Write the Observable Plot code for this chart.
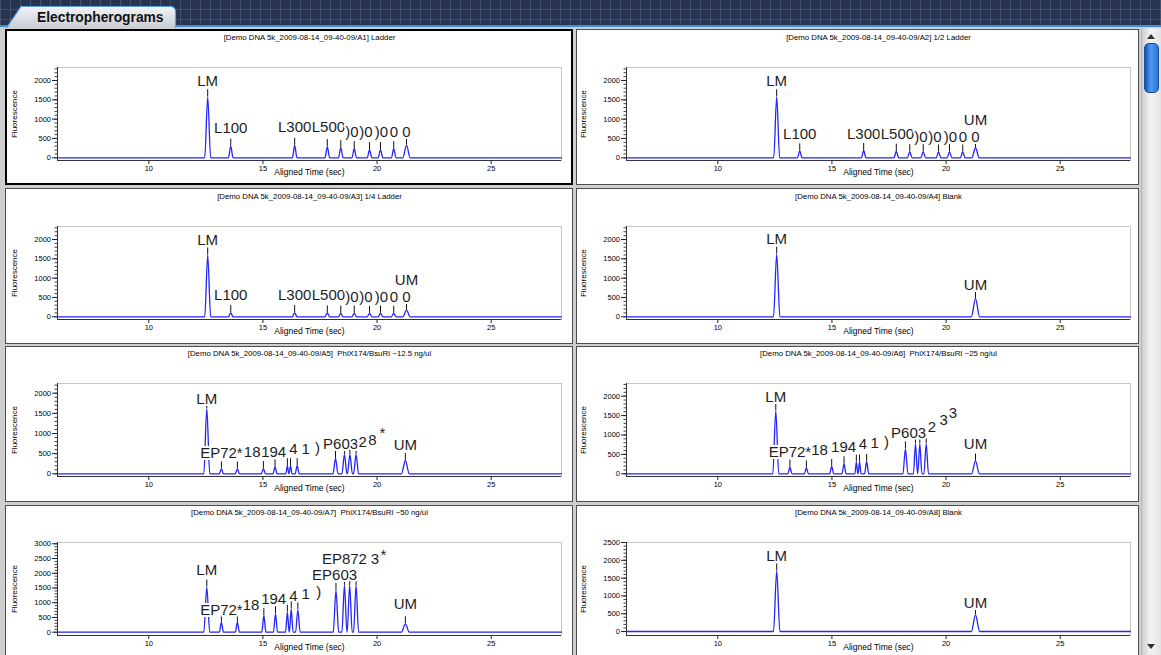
<!DOCTYPE html>
<html>
<head>
<meta charset="utf-8">
<script src="https://cdn.jsdelivr.net/npm/d3@7"></script>
<script src="https://cdn.jsdelivr.net/npm/@observablehq/plot@0.6"></script>
<style>
html,body{margin:0;padding:0;}
body{width:1161px;height:655px;overflow:hidden;position:relative;background:#cfcfcf;font-family:"Liberation Sans",Arial,sans-serif;}
#header{position:absolute;left:0;top:0;width:1161px;height:25px;background-color:#28344f;
  background-image:linear-gradient(90deg,rgba(110,130,170,.35) 1px,transparent 1px),linear-gradient(0deg,rgba(110,130,170,.35) 1px,transparent 1px);
  background-size:10px 10px;}
#hline{position:absolute;left:0;top:25px;width:1161px;height:2px;background:#3b8ee0;}
#tab{position:absolute;left:0;top:0;}
.panel{position:absolute;box-sizing:border-box;background:#fff;border:1px solid #4d4d4d;}
.panel.sel{border:2px solid #000;}
.plot{position:absolute;width:568px;height:156px;}
.ylab{position:absolute;width:80px;height:10px;font-size:8px;line-height:10px;text-align:center;color:#000;transform:rotate(-90deg);}
#scroll{position:absolute;left:1141px;top:28px;width:20px;height:627px;background:linear-gradient(90deg,#cfcfcf,#f4f4f4 45%,#e2e2e2);border-left:1px solid #b8b8b8;box-sizing:border-box;}
#thumb{position:absolute;left:2px;top:15px;width:15px;height:50px;border-radius:5px;background:linear-gradient(90deg,#1452b8,#4d9cf0 45%,#2a74d8);border:1px solid #1a4aa0;box-sizing:border-box;}
.arrow{position:absolute;left:5px;width:0;height:0;border-left:4px solid transparent;border-right:4px solid transparent;}
</style>
</head>
<body>
<div id="header"></div>
<div id="hline"></div>
<svg id="tab" width="190" height="28">
  <defs><linearGradient id="tg" x1="0" y1="0" x2="0" y2="1"><stop offset="0" stop-color="#f2f3f5"/><stop offset="1" stop-color="#c9ced5"/></linearGradient></defs>
  <path d="M6.5,28 L21,6.5 H170 Q175.5,6.5 175.5,12 V28" fill="url(#tg)" stroke="#5aa2ea" stroke-width="1.2"/>
  <text x="37" y="21.5" font-family="Liberation Sans, Arial, sans-serif" font-weight="bold" font-size="13.8" fill="#111">Electropherograms</text>
</svg>
<div id="scroll"><div class="arrow" style="top:6px;border-bottom:5px solid #333;"></div><div id="thumb"></div><div class="arrow" style="top:616px;border-top:5px solid #333;"></div></div>
<div id="root"></div>
<script>
// ---------- data ----------
const runName = "Demo DNA 5k_2009-08-14_09-40-09";
const sampleIds = ["A1", "A2", "A3", "A4", "A5", "A6", "A7", "A8"];
const sampleNames = ["Ladder", "1/2 Ladder", "1/4 Ladder", "Blank",
  "PhiX174/BsuRI ~12.5 ng/ul", "PhiX174/BsuRI ~25 ng/ul", "PhiX174/BsuRI ~50 ng/ul", "Blank"];

const xDomain = [6.0, 28.08];
const xTicks = [10, 15, 20, 25];
const yTicks2000 = [0, 500, 1000, 1500, 2000];
const yTicks2500 = [0, 500, 1000, 1500, 2000, 2500];
const yTicks3000 = [0, 500, 1000, 1500, 2000, 2500, 3000];

// ---- peaks (migration time in s, fluorescence height, half base width in s) ----
// ladder lanes A1, A2, A3
const ladderTimes = [12.58, 13.59, 16.39, 17.82, 18.41, 19.0, 19.67, 20.15, 20.73, 21.29];
const ladderWidths = [0.13, 0.1, 0.1, 0.1, 0.1, 0.1, 0.1, 0.1, 0.1, 0.16];
const a1Heights = [1580, 300, 320, 290, 260, 235, 210, 210, 235, 330];
const a2Heights = [1580, 180, 190, 170, 160, 160, 150, 160, 150, 260];
const a3Heights = [1600, 110, 110, 100, 95, 95, 90, 95, 90, 170];
// blank lanes A4, A8
const blankTimes = [12.58, 21.29];
const blankWidths = [0.14, 0.18];
const a4Heights = [1620, 470];
const a8Heights = [1700, 470];
// PhiX174/BsuRI lanes A5, A6, A7
const a5Times = [12.54, 13.18, 13.88, 15.02, 15.53, 16.07, 16.21, 16.5, 18.18, 18.57, 18.81, 19.08, 21.24];
const a5Heights = [1620, 120, 120, 130, 170, 200, 200, 200, 380, 480, 480, 480, 330];
const a5Widths = [0.13, 0.09, 0.09, 0.09, 0.09, 0.065, 0.065, 0.09, 0.11, 0.11, 0.11, 0.11, 0.17];
const a6Times = [12.54, 13.16, 13.88, 14.99, 15.53, 16.07, 16.21, 16.52, 18.22, 18.66, 18.85, 19.13, 21.29];
const a6Heights = [1630, 170, 150, 190, 258, 300, 300, 318, 644, 773, 773, 773, 330];
const a6Widths = [0.13, 0.09, 0.09, 0.09, 0.09, 0.065, 0.065, 0.09, 0.11, 0.09, 0.09, 0.1, 0.17];
const a7Times = [12.54, 13.18, 13.88, 15.04, 15.55, 16.07, 16.24, 16.53, 18.2, 18.57, 18.8, 19.08, 21.24];
const a7Heights = [1530, 340, 340, 567, 624, 680, 794, 760, 1415, 1585, 1585, 1585, 285];
const a7Widths = [0.13, 0.09, 0.09, 0.09, 0.09, 0.08, 0.08, 0.1, 0.12, 0.11, 0.11, 0.11, 0.17];

// ---- peak labels as they are visible (overlapping labels leave only fragments) ----
const a1LabelText = ["LM", "L100", "L300", "L500", ")0", ")0", ")0", "0", "0"];
const a1LabelTime = [12.58, 13.59, 16.39, 17.87, 18.9, 19.51, 20.19, 20.74, 21.29];
const a1LabelY = [1870, 636, 673, 673, 543, 543, 543, 543, 543];
const a2LabelText = ["LM", "L100", "L300", "L500", ")0", ")0", ")0", "0", "0", "UM"];
const a2LabelTime = [12.58, 13.59, 16.39, 17.87, 18.9, 19.51, 20.19, 20.74, 21.29, 21.29];
const a2LabelY = [1870, 492, 492, 492, 414, 414, 414, 414, 414, 850];
const a3LabelText = ["LM", "L100", "L300", "L500", ")0", ")0", ")0", "0", "0", "UM"];
const a3LabelTime = [12.58, 13.59, 16.39, 17.87, 18.9, 19.51, 20.19, 20.74, 21.29, 21.29];
const a3LabelY = [1870, 435, 435, 435, 395, 395, 395, 395, 395, 820];
const a4LabelText = ["LM", "UM"];
const a4LabelTime = [12.58, 21.29];
const a4LabelY = [1896, 704];
const a5LabelText = ["LM", "EP72*", "18", "194", "4", "1", ")", "P603", "2", "8", "*", "UM"];
const a5LabelTime = [12.54, 13.18, 14.53, 15.47, 16.34, 16.87, 17.39, 18.40, 19.37, 19.80, 20.24, 21.24];
const a5LabelY = [1737, 397, 412, 429, 479, 496, 511, 620, 660, 727, 891, 596];
const a6LabelText = ["LM", "EP72*", "18", "194", "4", "1", ")", "P603", "2", "3", "3", "UM"];
const a6LabelTime = [12.54, 13.16, 14.46, 15.51, 16.36, 16.87, 17.39, 18.36, 19.38, 19.89, 20.3, 21.29];
const a6LabelY = [1850, 428, 472, 557, 644, 660, 686, 918, 1072, 1270, 1425, 644];
const a7LabelText = ["LM", "EP72*", "18", "194", "4", "1", ")", "EP603", "EP872", "3", "*", "UM"];
const a7LabelTime = [12.54, 13.18, 14.48, 15.47, 16.34, 16.87, 17.44, 18.14, 18.57, 19.91, 20.28, 21.24];
const a7LabelY = [1948, 600, 760, 964, 1075, 1133, 1200, 1778, 2300, 2321, 2464, 794];
const a8LabelText = ["LM", "UM"];
const a8LabelTime = [12.58, 21.29];
const a8LabelY = [1994, 674];

// ---------- layout ----------
const panelLeft = [5, 576], panelWidth = [568, 563];
const panelTop = [29, 188, 346, 505], panelHeight = 156;
const svgLeft = [5, 574], svgTop = [29, 188, 345, 504];
const W = 568, H = 156, ML = 52, MR = 12, MT = 38, MB = 25;
const INNER_H = H - MT - MB;

const panels = [
  {i: 0, col: 0, row: 0, times: ladderTimes, heights: a1Heights, widths: ladderWidths, lt: a1LabelText, lx: a1LabelTime, ly: a1LabelY, yDomain: [-70, 2336], yTicks: yTicks2000, sel: true},
  {i: 1, col: 1, row: 0, times: ladderTimes, heights: a2Heights, widths: ladderWidths, lt: a2LabelText, lx: a2LabelTime, ly: a2LabelY, yDomain: [-70, 2336], yTicks: yTicks2000},
  {i: 2, col: 0, row: 1, times: ladderTimes, heights: a3Heights, widths: ladderWidths, lt: a3LabelText, lx: a3LabelTime, ly: a3LabelY, yDomain: [-70, 2336], yTicks: yTicks2000},
  {i: 3, col: 1, row: 1, times: blankTimes, heights: a4Heights, widths: blankWidths, lt: a4LabelText, lx: a4LabelTime, ly: a4LabelY, yDomain: [-70, 2336], yTicks: yTicks2000},
  {i: 4, col: 0, row: 2, times: a5Times, heights: a5Heights, widths: a5Widths, lt: a5LabelText, lx: a5LabelTime, ly: a5LabelY, yDomain: [-67, 2241], yTicks: yTicks2000},
  {i: 5, col: 1, row: 2, times: a6Times, heights: a6Heights, widths: a6Widths, lt: a6LabelText, lx: a6LabelTime, ly: a6LabelY, yDomain: [-70, 2327], yTicks: yTicks2000},
  {i: 6, col: 0, row: 3, times: a7Times, heights: a7Heights, widths: a7Widths, lt: a7LabelText, lx: a7LabelTime, ly: a7LabelY, yDomain: [-112, 3044], yTicks: yTicks3000},
  {i: 7, col: 1, row: 3, times: blankTimes, heights: a8Heights, widths: blankWidths, lt: a8LabelText, lx: a8LabelTime, ly: a8LabelY, yDomain: [-112, 2500], yTicks: yTicks2500}
];

const FONT = "Liberation Sans, Arial, sans-serif";

function chart(p) {
  const span = p.yDomain[1] - p.yDomain[0];
  const markLen = 7 * span / INNER_H;
  const peaks = p.times.map((t, k) => ({t, h: p.heights[k], w: p.widths[k]}));
  const trace = [{t: xDomain[0], v: 0}];
  for (const d of peaks) trace.push({t: d.t - d.w, v: 0}, {t: d.t, v: d.h}, {t: d.t + d.w, v: 0});
  trace.push({t: xDomain[1], v: 0});
  trace.sort((a, b) => a.t - b.t);
  const labels = p.lt.map((s, k) => ({s, t: p.lx[k], y: p.ly[k]}));
  const minor = d3.range(0, p.yDomain[1], 100);
  const title = "[" + runName + "/" + sampleIds[p.i] + "]" + (p.i >= 4 && p.i <= 6 ? "\u00a0 " : " ") + sampleNames[p.i];
  return Plot.plot({
    width: W, height: H,
    marginLeft: ML, marginRight: MR, marginTop: MT, marginBottom: MB,
    x: {domain: xDomain},
    y: {domain: p.yDomain},
    style: {background: "transparent", overflow: "visible", fontFamily: FONT},
    marks: [
      Plot.frame({stroke: "#c6c6c6"}),
      Plot.axisY({ticks: minor, tickSize: 2.5, text: null, label: null, stroke: "#444"}),
      Plot.axisY({ticks: p.yTicks, tickSize: 5, tickPadding: 1.5, tickFormat: "d", fontSize: 7.5, label: null, stroke: "#222", fill: "#000"}),
      Plot.axisX({ticks: xTicks, tickSize: 4, tickPadding: 1, fontSize: 7.5, label: null, stroke: "#222", fill: "#000"}),
      Plot.ruleX([xDomain[0]], {stroke: "#333"}),
      Plot.ruleY([p.yDomain[0]], {stroke: "#333"}),
      Plot.line(trace, {x: "t", y: "v", stroke: "#2424f6", strokeWidth: 1.3, curve: "monotone-x"}),
      Plot.ruleX(peaks, {x: "t", y1: "h", y2: d => d.h + markLen, stroke: "#111", strokeWidth: 1}),
      Plot.text(labels, {x: "t", y: "y", text: "s", lineAnchor: "bottom", fontSize: 15, fontFamily: FONT,
        fill: "#1e1e1e", stroke: "white", strokeWidth: 4, strokeLinejoin: "round", paintOrder: "stroke"}),
      Plot.text([title], {frameAnchor: "top", dy: -30, lineAnchor: "middle", fontSize: 7.8, fill: "#000"}),
      Plot.text(["Aligned Time (sec)"], {frameAnchor: "bottom", dy: 12, lineAnchor: "middle", fontSize: 8.5, fill: "#000"})
    ]
  });
}

const root = document.getElementById("root");
for (const p of panels) {
  const pd = document.createElement("div");
  pd.className = "panel" + (p.sel ? " sel" : "");
  pd.style.left = panelLeft[p.col] + "px";
  pd.style.top = panelTop[p.row] + "px";
  pd.style.width = panelWidth[p.col] + "px";
  pd.style.height = panelHeight + "px";
  root.appendChild(pd);
}
for (const p of panels) {
  const d = document.createElement("div");
  d.className = "plot";
  d.style.left = svgLeft[p.col] + "px";
  d.style.top = svgTop[p.row] + "px";
  d.appendChild(chart(p));
  root.appendChild(d);
  const yl = document.createElement("div");
  yl.className = "ylab";
  yl.textContent = "Fluorescence";
  const cx = svgLeft[p.col] + ML - 42;
  const cy = svgTop[p.row] + MT + INNER_H / 2;
  yl.style.left = (cx - 40) + "px";
  yl.style.top = (cy - 5) + "px";
  root.appendChild(yl);
}
</script>
</body>
</html>
